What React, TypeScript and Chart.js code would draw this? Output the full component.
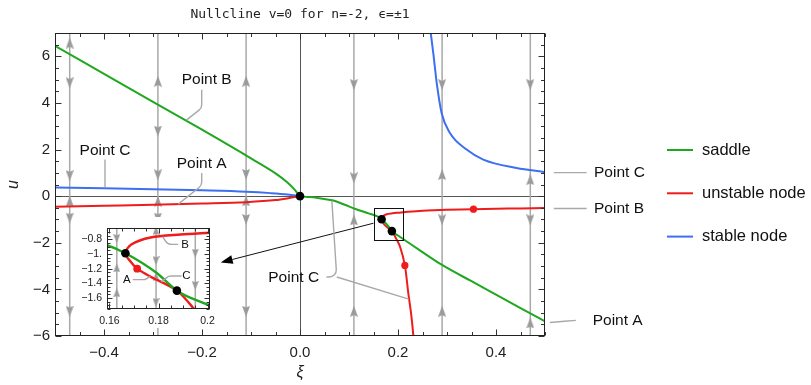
import React, { useEffect, useRef } from 'react';
import { Chart, registerables } from 'chart.js';

Chart.register(...registerables);

// ---------------- data ----------------
const xLimits = [-0.5, 0.5];
const uLimits = [-6, 7];
const insetXLimits = [0.159, 0.201];
const insetULimits = [-1.75, -0.65];

const mainXTicks = [-0.4, -0.2, 0, 0.2, 0.4];
const mainXTickLabels = ['\u22120.4', '\u22120.2', '0.0', '0.2', '0.4'];
const mainUTicks = [-6, -4, -2, 0, 2, 4, 6];
const mainUTickLabels = ['\u22126', '\u22124', '\u22122', '0', '2', '4', '6'];
const insetXTicks = [0.16, 0.18, 0.2];
const insetXTickLabels = ['0.16', '0.18', '0.2'];
const insetUTicks = [-1.6, -1.4, -1.2, -1.0, -0.8];
const insetUTickLabels = ['\u22121.6', '\u22121.4', '\u22121.2', '\u22121.', '\u22120.8'];

// saddle branch (green)
const saddleCurve: number[][] = [
  [-0.5, 6.45], [-0.4, 5.25], [-0.3, 4.05], [-0.2, 2.85], [-0.1, 1.62], [-0.05, 0.98],
  [-0.025, 0.58], [-0.01, 0.26], [0, 0], [0.02, -0.04], [0.04, -0.09], [0.068, -0.19],
  [0.09, -0.36], [0.116, -0.57], [0.14, -0.74], [0.159, -0.88], [0.1665, -0.99],
  [0.1793, -1.26], [0.1875, -1.5], [0.2, -1.69], [0.25, -2.4], [0.289, -2.94],
  [0.35, -3.65], [0.4, -4.22], [0.45, -4.8], [0.5, -5.37],
];
// unstable node branches (red)
const unstableLeft: number[][] = [
  [-0.5, -0.45], [-0.4, -0.41], [-0.3, -0.37], [-0.2, -0.32], [-0.11, -0.26],
  [-0.05, -0.17], [-0.024, -0.09], [0, 0],
];
const unstableRight: number[][] = [
  [0.5, -0.51], [0.45, -0.525], [0.4, -0.54], [0.354, -0.56], [0.3, -0.585], [0.25, -0.625],
  [0.22, -0.67], [0.2008, -0.71], [0.189, -0.735], [0.1768, -0.775], [0.1689, -0.87],
  [0.1665, -0.99], [0.1685, -1.1], [0.1713, -1.2], [0.1768, -1.31], [0.1875, -1.5],
  [0.1945, -1.75], [0.204, -2.16], [0.214, -2.97], [0.221, -4.16], [0.2265, -5.0],
  [0.231, -5.91], [0.2318, -6.2],
];
// stable node branches (blue)
const stableLeft: number[][] = [
  [-0.5, 0.37], [-0.4, 0.34], [-0.3, 0.3], [-0.2, 0.25], [-0.11, 0.19], [-0.06, 0.13],
  [-0.025, 0.07], [0, 0],
];
const stableRight: number[][] = [
  [0.2668, 7.0], [0.272, 6.14], [0.279, 4.86], [0.289, 3.57], [0.306, 2.71], [0.34, 2.0],
  [0.374, 1.57], [0.442, 1.21], [0.5, 1.03],
];
// marked points
const fixedPoints: number[][] = [[0, 0], [0.1665, -0.99], [0.1875, -1.5]];
const redMarksMain: number[][] = [[0.354, -0.56], [0.214, -2.97]];
const redMarksInset: number[][] = [[0.1713, -1.2]];

// stream lines and their arrows
const mainStreamX = [-0.47, -0.29, -0.11, 0.11, 0.29, 0.47];
const mainArrowsUp: number[][] = [
  [-0.47, 6.57], [-0.47, -0.22], [-0.29, 4.93], [-0.29, -0.22], [-0.11, 4.93], [-0.11, -0.2],
  [0.11, -1.02], [0.11, -4.94], [0.29, 0.93], [0.29, -4.94], [0.47, 0.71], [0.47, -5.44],
];
const mainArrowsDown: number[][] = [
  [-0.47, 4.86], [-0.47, 0.88], [-0.47, -0.94], [-0.47, -4.94],
  [-0.29, 2.79], [-0.29, 0.91], [-0.29, -0.94], [-0.29, -4.94],
  [-0.11, 0.93], [-0.11, -1.0], [-0.11, -4.94],
  [0.11, 4.78], [0.11, 0.78], [0.29, 4.78], [0.29, -1.02], [0.47, 4.78], [0.47, -1.02],
];
const insetStreamX = [0.163, 0.179, 0.195];
const insetArrowsUp: number[][] = [[0.163, -1.19], [0.163, -1.53], [0.179, -0.68], [0.179, -1.31]];
const insetArrowsDown: number[][] = [[0.163, -0.79], [0.179, -1.09], [0.179, -1.66], [0.195, -0.99], [0.195, -1.43]];

const legendLabels = ['saddle', 'unstable node', 'stable node'];

// ---------------- annotation layout ----------------
const mainCallouts = [
  { text: 'Point B', at: [-0.1904, 4.99], align: 'center', paths: [[[-0.2006, 4.57], [-0.2006, 3.78], [-0.2318, 3.26]]] },
  { text: 'Point A', at: [-0.2006, 1.385], align: 'center', paths: [[[-0.2006, 0.99], [-0.2006, 0.46], [-0.2484, -0.34]]] },
  { text: 'Point C', at: [-0.398, 1.97], align: 'center', paths: [[[-0.398, 1.57], [-0.398, 0.37]]] },
  { text: 'Point C', at: [-0.0129, -3.48], align: 'center', paths: [[[0.054, -3.47], [0.075, -3.47], [0.065, -0.2]], [[0.075, -3.47], [0.222, -4.42]]] },
  { text: 'Point C', at: [0.6, 1.01], align: 'left', paths: [[[0.518, 1.01], [0.585, 1.01]]] },
  { text: 'Point B', at: [0.6, -0.53], align: 'left', paths: [[[0.518, -0.53], [0.585, -0.53]]] },
  { text: 'Point A', at: [0.5973, -5.33], align: 'left', paths: [[[0.51, -5.42], [0.54, -5.37], [0.563, -5.33]]] },
];
const insetCallouts = [
  { text: 'B', at: [0.1908, -0.869], align: 'center', paths: [[[0.188, -0.869], [0.1838, -0.869], [0.1817, -0.765]]] },
  { text: 'A', at: [0.1671, -1.35], align: 'center', paths: [[[0.1695, -1.35], [0.1745, -1.35], [0.1766, -1.305]]] },
  { text: 'C', at: [0.1914, -1.3], align: 'center', paths: [[[0.1894, -1.3], [0.1841, -1.3], [0.1812, -1.38]]] },
];
const zoomBox = { x0: 0.15, x1: 0.21, u0: -1.87, u1: -0.49 };
const zoomArrow = { from: [0.15, -1.16], to: [-0.1618, -2.846] };
const legendLayout = { x0: 667, x1: 693, textX: 702, y0: 150, dy: 43.3 };

// ---------------- styles ----------------
const GREEN = '#1fa81f';
const RED = '#ee1c1c';
const BLUE = '#3d6ff2';
const GRAY_LINE = '#a9a9a9';
const GRAY_ARROW = '#9a9a9a';
const SANS = "'Liberation Sans', Arial, Helvetica, sans-serif";
const legendColors = [GREEN, RED, BLUE];

const pts = (a: number[][]) => a.map(([x, y]) => ({ x, y }));
const streams = (xs: number[], lo: number, hi: number) =>
  xs.flatMap((x) => [{ x, y: lo }, { x, y: hi }, { x, y: null as any }]);

function arrowImage(w: number, h: number) {
  const c = document.createElement('canvas');
  c.width = w;
  c.height = h;
  const g = c.getContext('2d')!;
  g.fillStyle = GRAY_ARROW;
  g.beginPath();
  g.moveTo(w / 2, 0);
  g.lineTo(w, h);
  g.lineTo(w / 2, h * 0.85);
  g.lineTo(0, h);
  g.closePath();
  g.fill();
  return c;
}

function curve(data: number[][], color: string, width: number, mono: boolean) {
  return {
    data: pts(data),
    showLine: true,
    borderColor: color,
    backgroundColor: color,
    borderWidth: width,
    pointRadius: 0,
    pointHoverRadius: 0,
    fill: false,
    cubicInterpolationMode: mono ? 'monotone' : 'default',
    tension: mono ? 0 : 0.3,
    order: 1,
  };
}

function dots(data: number[][], color: string, r: number) {
  return {
    data: pts(data),
    showLine: false,
    pointRadius: r,
    pointHoverRadius: r,
    pointBackgroundColor: color,
    pointBorderWidth: 0,
    order: 0,
  };
}

function arrows(data: number[][], img: HTMLCanvasElement, rot: number) {
  return {
    data: pts(data),
    showLine: false,
    pointStyle: img,
    rotation: rot,
    pointRadius: 5,
    pointHoverRadius: 5,
    order: 2,
  };
}

function strokePath(ctx: CanvasRenderingContext2D, p: number[][], r: number) {
  ctx.beginPath();
  ctx.moveTo(p[0][0], p[0][1]);
  for (let i = 1; i < p.length - 1; i++) ctx.arcTo(p[i][0], p[i][1], p[i + 1][0], p[i + 1][1], r);
  ctx.lineTo(p[p.length - 1][0], p[p.length - 1][1]);
  ctx.stroke();
}

function drawFrame(chart: any, xMinor: number, uMinor: number, xMajors: number[], uMajors: number[], maj: number, min: number) {
  const { ctx, chartArea: a, scales } = chart;
  const sx = scales.x, sy = scales.y;
  ctx.save();
  ctx.strokeStyle = '#333';
  ctx.lineWidth = 1;
  ctx.beginPath();
  const L = Math.round(a.left) + 0.5, R = Math.round(a.right) - 0.5;
  const T = Math.round(a.top) + 0.5, B = Math.round(a.bottom) - 0.5;
  const xt = (v: number, len: number) => {
    const p = Math.round(sx.getPixelForValue(v)) + 0.5;
    ctx.moveTo(p, B); ctx.lineTo(p, B - len);
    ctx.moveTo(p, T); ctx.lineTo(p, T + len);
  };
  const yt = (v: number, len: number) => {
    const p = Math.round(sy.getPixelForValue(v)) + 0.5;
    ctx.moveTo(L, p); ctx.lineTo(L + len, p);
    ctx.moveTo(R, p); ctx.lineTo(R - len, p);
  };
  const isMajor = (v: number, arr: number[]) => arr.some((m) => Math.abs(m - v) < 1e-9);
  for (let i = Math.ceil(sx.min / xMinor - 1e-9); i * xMinor <= sx.max + 1e-9; i++) {
    const v = i * xMinor;
    if (!isMajor(v, xMajors)) xt(v, min);
  }
  for (let i = Math.ceil(sy.min / uMinor - 1e-9); i * uMinor <= sy.max + 1e-9; i++) {
    const v = i * uMinor;
    if (!isMajor(v, uMajors)) yt(v, min);
  }
  xMajors.forEach((v) => xt(v, maj));
  uMajors.forEach((v) => yt(v, maj));
  ctx.stroke();
  ctx.strokeStyle = '#222';
  ctx.strokeRect(L, T, R - L, B - T);
  ctx.restore();
}

function drawCallouts(chart: any, list: any[], font: string) {
  const { ctx, scales } = chart;
  const P = (q: number[]) => [scales.x.getPixelForValue(q[0]), scales.y.getPixelForValue(q[1])];
  ctx.save();
  ctx.strokeStyle = GRAY_LINE;
  ctx.lineWidth = 1.4;
  ctx.lineJoin = 'round';
  list.forEach((c) => {
    c.paths.forEach((path: number[][]) => strokePath(ctx, path.map(P), 7));
  });
  ctx.fillStyle = '#111';
  ctx.font = font;
  ctx.textBaseline = 'middle';
  list.forEach((c) => {
    const [px, py] = P(c.at);
    ctx.textAlign = c.align;
    ctx.fillText(c.text, px, py);
  });
  ctx.restore();
}

const mainDecor = {
  id: 'mainDecor',
  beforeDatasetsDraw(chart: any) {
    const { ctx, chartArea: a, scales } = chart;
    const x0 = Math.round(scales.x.getPixelForValue(0)) + 0.5;
    const y0 = Math.round(scales.y.getPixelForValue(0)) + 0.5;
    ctx.save();
    ctx.strokeStyle = '#555';
    ctx.lineWidth = 1;
    ctx.beginPath();
    ctx.moveTo(a.left, y0); ctx.lineTo(a.right, y0);
    ctx.moveTo(x0, a.top); ctx.lineTo(x0, a.bottom);
    ctx.stroke();
    ctx.restore();
  },
  afterDatasetsDraw(chart: any) {
    const { ctx, scales } = chart;
    const sx = scales.x, sy = scales.y;
    drawFrame(chart, 0.05, 0.5, mainXTicks, mainUTicks, 6, 3.5);

    // zoom box
    ctx.save();
    ctx.strokeStyle = '#111';
    ctx.lineWidth = 1;
    const bx0 = Math.round(sx.getPixelForValue(zoomBox.x0)) + 0.5;
    const bx1 = Math.round(sx.getPixelForValue(zoomBox.x1)) + 0.5;
    const by0 = Math.round(sy.getPixelForValue(zoomBox.u1)) + 0.5;
    const by1 = Math.round(sy.getPixelForValue(zoomBox.u0)) + 0.5;
    ctx.strokeRect(bx0, by0, bx1 - bx0, by1 - by0);

    // arrow to inset
    const fx = sx.getPixelForValue(zoomArrow.from[0]), fy = sy.getPixelForValue(zoomArrow.from[1]);
    const tx = sx.getPixelForValue(zoomArrow.to[0]), ty = sy.getPixelForValue(zoomArrow.to[1]);
    const ang = Math.atan2(ty - fy, tx - fx);
    const hl = 12, hw = 4.5;
    const bxp = tx - Math.cos(ang) * hl, byp = ty - Math.sin(ang) * hl;
    ctx.beginPath();
    ctx.moveTo(fx, fy);
    ctx.lineTo(bxp, byp);
    ctx.stroke();
    ctx.fillStyle = '#000';
    ctx.beginPath();
    ctx.moveTo(tx, ty);
    ctx.lineTo(bxp + Math.sin(ang) * hw, byp - Math.cos(ang) * hw);
    ctx.lineTo(bxp - Math.sin(ang) * hw, byp + Math.cos(ang) * hw);
    ctx.closePath();
    ctx.fill();
    ctx.restore();

    drawCallouts(chart, mainCallouts, `15.5px ${SANS}`);

    // legend
    ctx.save();
    ctx.font = `16.5px ${SANS}`;
    ctx.textBaseline = 'middle';
    ctx.textAlign = 'left';
    legendLabels.forEach((lab, i) => {
      const y = legendLayout.y0 + i * legendLayout.dy;
      ctx.strokeStyle = legendColors[i];
      ctx.lineWidth = 2;
      ctx.beginPath();
      ctx.moveTo(legendLayout.x0, y);
      ctx.lineTo(legendLayout.x1, y);
      ctx.stroke();
      ctx.fillStyle = '#111';
      ctx.fillText(lab, legendLayout.textX, y);
    });
    ctx.restore();
  },
};

const insetDecor = {
  id: 'insetDecor',
  beforeDraw(chart: any) {
    const { ctx, width, height } = chart;
    ctx.save();
    ctx.fillStyle = '#fff';
    ctx.fillRect(0, 0, width, height);
    ctx.restore();
  },
  afterDatasetsDraw(chart: any) {
    drawFrame(chart, 0.005, 0.05, insetXTicks, insetUTicks, 5, 3);
    drawCallouts(chart, insetCallouts, `11.5px ${SANS}`);
  },
};

function axis(min: number, max: number, ticks: number[], labels: string[], size: number, pad: number, fit: (s: any) => void, title?: any) {
  return {
    type: 'linear',
    min,
    max,
    afterBuildTicks: (s: any) => { s.ticks = ticks.map((value) => ({ value })); },
    afterFit: fit,
    ticks: {
      callback: (_v: any, i: number) => labels[i],
      font: { family: SANS, size },
      color: '#222',
      padding: pad,
      maxRotation: 0,
      autoSkip: false,
    },
    grid: { display: false, drawTicks: false },
    border: { display: false },
    title: title || { display: false },
  };
}

export default function App() {
  const mainRef = useRef<HTMLCanvasElement>(null);
  const insetRef = useRef<HTMLCanvasElement>(null);

  useEffect(() => {
    document.body.style.margin = '0';
    const upImg = arrowImage(8, 11);
    const upSmall = arrowImage(7, 9);

    const main = new Chart(mainRef.current as HTMLCanvasElement, {
      type: 'scatter',
      data: {
        datasets: [
          dots(fixedPoints, '#000', 4.3),
          dots(redMarksMain, RED, 3.6),
          curve(saddleCurve, GREEN, 2, true),
          curve(unstableLeft, RED, 2, true),
          curve(unstableRight, RED, 2, false),
          curve(stableLeft, BLUE, 2, true),
          curve(stableRight, BLUE, 2, true),
          arrows(mainArrowsUp, upImg, 0),
          arrows(mainArrowsDown, upImg, 180),
          {
            data: streams(mainStreamX, uLimits[0], uLimits[1]),
            showLine: true,
            spanGaps: false,
            borderColor: GRAY_LINE,
            borderWidth: 1.5,
            pointRadius: 0,
            pointHoverRadius: 0,
            order: 3,
          },
        ] as any,
      },
      options: {
        responsive: false,
        animation: false,
        events: [],
        devicePixelRatio: 1,
        layout: { padding: { left: 0, right: 266, top: 0, bottom: 0 } },
        plugins: {
          legend: { display: false },
          tooltip: { enabled: false },
          title: {
            display: true,
            text: 'Nullcline v=0 for n=-2, \u03f5=\u00b11',
            fullSize: false,
            font: { family: "'DejaVu Sans Mono', monospace", size: 13, weight: 'normal' },
            color: '#222',
            padding: { top: 7, bottom: 10.4 },
          },
        },
        scales: {
          x: axis(xLimits[0], xLimits[1], mainXTicks, mainXTickLabels, 15, 8, (s: any) => { s.height = 49; }, {
            display: true, text: '\u03be', color: '#222',
            font: { family: SANS, size: 16, style: 'italic' }, padding: { top: 0, bottom: 3 },
          }),
          y: axis(uLimits[0], uLimits[1], mainUTicks, mainUTickLabels, 15, 5, (s: any) => { s.width = 55; }, {
            display: true, text: 'u', color: '#222',
            font: { family: SANS, size: 16, style: 'italic' }, padding: { top: 4, bottom: 0 },
          }),
        },
      } as any,
      plugins: [mainDecor as any],
    });

    const inset = new Chart(insetRef.current as HTMLCanvasElement, {
      type: 'scatter',
      data: {
        datasets: [
          dots(fixedPoints, '#000', 4.3),
          dots(redMarksInset, RED, 3.9),
          curve(saddleCurve, GREEN, 2.4, true),
          curve(unstableRight, RED, 2.4, false),
          arrows(insetArrowsUp, upSmall, 0),
          arrows(insetArrowsDown, upSmall, 180),
          {
            data: streams(insetStreamX, insetULimits[0], insetULimits[1]),
            showLine: true,
            spanGaps: false,
            borderColor: GRAY_LINE,
            borderWidth: 1.5,
            pointRadius: 0,
            pointHoverRadius: 0,
            order: 3,
          },
        ] as any,
      },
      options: {
        responsive: false,
        animation: false,
        events: [],
        devicePixelRatio: 1,
        layout: { padding: { left: 0, right: 0, top: 1, bottom: 0 } },
        plugins: { legend: { display: false }, tooltip: { enabled: false }, title: { display: false } },
        scales: {
          x: axis(insetXLimits[0], insetXLimits[1], insetXTicks, insetXTickLabels, 10.5, 6, (s: any) => { s.height = 19; }),
          y: axis(insetULimits[0], insetULimits[1], insetUTicks, insetUTickLabels, 10.5, 5, (s: any) => { s.width = 31; }),
        },
      } as any,
      plugins: [insetDecor as any],
    });

    return () => {
      main.destroy();
      inset.destroy();
    };
  }, []);

  return (
    <div style={{ position: 'relative', width: 811, height: 385 }}>
      <canvas ref={mainRef} width={811} height={385} style={{ position: 'absolute', left: 0, top: 0, width: 811, height: 385 }} />
      <canvas ref={insetRef} width={145} height={111} style={{ position: 'absolute', left: 76, top: 217, width: 145, height: 111 }} />
    </div>
  );
}
